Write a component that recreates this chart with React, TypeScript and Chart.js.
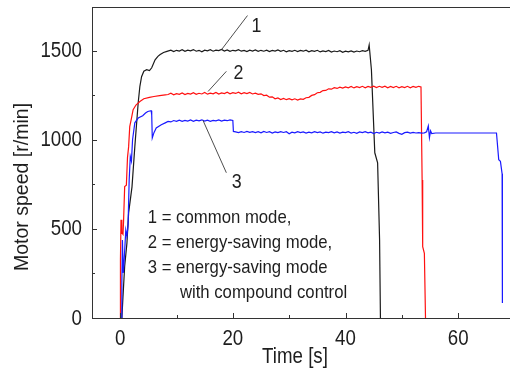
import React, { useEffect, useRef } from "react";
import { Chart, registerables } from "chart.js";

Chart.register(...registerables);

// ---------- data ----------
const xTickValues = [0, 20, 40, 60];
const yTickValues = [0, 500, 1000, 1500];

const blackTime = [
  0.3, 0.5, 0.8, 1.2, 1.5, 2.1, 2.6, 3.2, 3.5, 3.8, 4.2, 4.7, 5.2, 5.6, 6.2, 6.7, 7.1, 7.7, 8.3,
  9, 9.5, 10, 10.5, 11, 11.5, 12, 12.5, 13, 13.5, 14, 14.5, 15, 15.5, 16, 16.5, 17, 17.5, 18, 18.5,
  19, 19.5, 20, 20.5, 21, 21.5, 22, 22.5, 23, 23.5, 24, 24.5, 25, 25.5, 26, 26.5, 27, 27.5, 28, 28.5,
  29, 29.5, 30, 30.5, 31, 31.5, 32, 32.5, 33, 33.5, 34, 34.5, 35, 35.5, 36, 36.5, 37, 37.5, 38, 38.5,
  39, 39.5, 40, 40.5, 41, 41.5, 42, 42.5, 43, 43.5, 44,
  44.2, 44.6, 45.2, 45.7, 46.05, 46.2,
];
const blackSpeed = [
  0, 120, 290, 420, 590, 736, 960, 1208, 1300, 1354, 1385, 1393, 1388, 1404, 1449, 1468, 1478, 1490, 1496,
  1503, 1495, 1502, 1498, 1505, 1496, 1503, 1499, 1506, 1497, 1502, 1494, 1503, 1499, 1505, 1497, 1503, 1500, 1507, 1498,
  1504, 1496, 1502, 1499, 1505, 1497, 1501, 1495, 1503, 1498, 1504, 1496, 1502, 1497, 1503, 1495, 1501, 1498, 1504, 1496,
  1502, 1494, 1500, 1496, 1502, 1495, 1501, 1497, 1503, 1494, 1500, 1496, 1502, 1493, 1499, 1495, 1501, 1492, 1498, 1494,
  1500, 1491, 1497, 1493, 1499, 1492, 1498, 1494, 1500, 1496, 1502,
  1532, 1393, 927, 871, 438, 0,
];

const redTime = [
  0.0, 0.05, 0.15, 0.3, 0.5, 0.6, 0.8, 1.1, 1.3, 1.5, 1.7, 2.0, 2.3, 2.8, 3.5, 4.2, 5.2, 6.0, 7.0, 8.0, 8.5,
  9, 9.5, 10, 10.5, 11, 11.5, 12, 12.5, 13, 13.5, 14, 14.5, 15, 15.5, 16, 16.5, 17, 17.5, 18, 18.5,
  19, 19.5, 20, 20.5, 21, 21.5, 22, 22.5, 23, 23.5, 24, 24.5, 25, 25.5, 26, 26.5, 27, 27.5, 28, 28.5,
  29, 29.5, 30, 30.5, 31, 31.5, 32, 32.5, 33, 33.5, 34, 34.5, 35, 35.5, 36, 36.5, 37, 37.5, 38, 38.5,
  39, 39.5, 40, 40.5, 41, 41.5, 42, 42.5, 43, 43.5, 44, 44.5, 45, 45.5, 46, 46.5, 47, 47.5, 48, 48.5,
  49, 49.5, 50, 50.5, 51, 51.5, 52, 52.5, 53,
  53.4, 53.6, 53.7, 54.0, 54.2,
];
const redSpeed = [
  0, 330, 551, 480, 470, 540, 737, 745, 900, 960, 1074, 1120, 1169, 1195, 1215, 1230, 1238, 1243, 1248, 1252, 1254,
  1261, 1252, 1259, 1255, 1263, 1254, 1260, 1256, 1264, 1255, 1261, 1257, 1265, 1256, 1262, 1258, 1266, 1257, 1263, 1259,
  1267, 1258, 1264, 1260, 1267, 1258, 1264, 1259, 1266, 1257, 1262, 1255, 1258, 1248, 1250, 1239, 1241, 1230, 1235, 1226,
  1232, 1225, 1231, 1224, 1230, 1223, 1229, 1227, 1236, 1238, 1249, 1253, 1264, 1266, 1276, 1277, 1286, 1284, 1292, 1288,
  1295, 1290, 1297, 1292, 1299, 1291, 1298, 1293, 1300, 1292, 1299, 1294, 1301, 1293, 1300, 1294, 1301, 1292, 1299, 1293,
  1300, 1292, 1298, 1293, 1300, 1292, 1299, 1294, 1300,
  1296, 775, 400, 363, 0,
];

const blueTime = [
  0.2, 0.3, 0.4, 0.55, 0.7, 1.0, 1.2, 1.4, 1.6, 1.8, 2.0, 2.2, 2.6, 3.2, 4.0, 4.5, 4.9, 5.5, 5.6, 5.7,
  6.0, 6.4, 7.3, 8.0, 8.5,
  9, 9.5, 10, 10.5, 11, 11.5, 12, 12.5, 13, 13.5, 14, 14.5, 15, 15.5, 16, 16.5, 17, 17.5, 18, 18.5,
  19, 19.5, 20, 20.1,
  20.5, 21, 21.5, 22, 22.5, 23, 23.5, 24, 24.5, 25, 25.5, 26, 26.5, 27, 27.5, 28, 28.5,
  29, 29.5, 30, 30.5, 31, 31.5, 32, 32.5, 33, 33.5, 34, 34.5, 35, 35.5, 36, 36.5, 37, 37.5, 38, 38.5,
  39, 39.5, 40, 40.5, 41, 41.5, 42, 42.5, 43, 43.5, 44, 44.5, 45, 45.5, 46, 46.5, 47, 47.5, 48, 48.5,
  49, 49.5, 50, 50.5, 51, 51.5, 52, 52.5, 53, 53.5, 54,
  54.4, 54.7, 54.9, 55.1, 55.3, 56, 66.8, 67.2, 67.5, 67.8, 67.85,
];
const blueSpeed = [
  0, 200, 438, 253, 320, 494, 460, 520, 775, 906, 880, 1000, 1095, 1122, 1135, 1150, 1159, 1163, 1140, 1010,
  1040, 1066, 1084, 1095, 1103,
  1100, 1108, 1103, 1110, 1104, 1109, 1105, 1111, 1104, 1110, 1106, 1112, 1105, 1110, 1104, 1109, 1106, 1111, 1105, 1110,
  1107, 1112, 1108, 1047,
  1044, 1040, 1046, 1041, 1047, 1042, 1046, 1040, 1045, 1039, 1047, 1041, 1045, 1038, 1044, 1040, 1046,
  1041, 1045, 1034, 1043, 1039, 1045, 1040, 1044, 1038, 1043, 1039, 1045, 1040, 1044, 1037, 1043, 1040, 1046, 1039, 1044,
  1038, 1043, 1040, 1045, 1038, 1042, 1036, 1044, 1040, 1045, 1039, 1043, 1035, 1042, 1038, 1044, 1039, 1043, 1036, 1041,
  1044, 1036, 1031, 1040, 1043, 1037, 1041, 1038, 1040, 1037, 1039,
  1045, 1078, 1012, 1050, 1035, 1038, 1038, 888, 879, 809, 84,
];

const curveLabels = ["1", "2", "3"];
const noteLines = [
  "1 = common mode,",
  "2 = energy-saving mode,",
  "3 = energy-saving mode",
  "with compound control",
];
const xTitle = "Time [s]";
const yTitle = "Motor speed [r/min]";

const FONT = '"Liberation Sans", Arial, sans-serif';
const TEXT = "#1e1e1e";

function toPts(t: number[], v: number[]) {
  return t.map((x, i) => ({ x, y: v[i] }));
}

// draws text with a horizontal squeeze (condensed look)
function txt(
  ctx: CanvasRenderingContext2D,
  s: string,
  px: number,
  py: number,
  size: number,
  squeeze: number,
  align: CanvasTextAlign
) {
  ctx.save();
  ctx.translate(px, py);
  ctx.scale(squeeze, 1);
  ctx.font = `${size}px ${FONT}`;
  ctx.textAlign = align;
  ctx.textBaseline = "middle";
  ctx.fillText(s, 0, 0);
  ctx.restore();
}

const decorPlugin = {
  id: "decor",
  afterDraw(chart: any) {
    const { ctx, chartArea: a, scales } = chart;
    const x = scales.x;
    const y = scales.y;
    ctx.save();
    ctx.strokeStyle = "#333";
    ctx.lineWidth = 1;
    const seg = (x1: number, y1: number, x2: number, y2: number) => {
      ctx.beginPath();
      ctx.moveTo(x1, y1);
      ctx.lineTo(x2, y2);
      ctx.stroke();
    };
    // top frame line
    seg(a.left, Math.round(a.top) + 0.5, a.right, Math.round(a.top) + 0.5);

    ctx.fillStyle = TEXT;
    // inward ticks + labels on x axis
    const xv = x.ticks.map((t: any) => t.value);
    const xs = xv.length > 1 ? xv[1] - xv[0] : 20;
    xv.forEach((v: number) => {
      const p = Math.round(x.getPixelForValue(v)) + 0.5;
      seg(p, a.bottom, p, a.bottom - 5);
      const m = v + xs / 2;
      if (m < x.max) {
        const q = Math.round(x.getPixelForValue(m)) + 0.5;
        seg(q, a.bottom, q, a.bottom - 3);
      }
      txt(ctx, String(v), x.getPixelForValue(v), a.bottom + 20.5, 22, 0.85, "center");
    });
    // inward ticks + labels on y axis
    const yv = y.ticks.map((t: any) => t.value);
    const ys = yv.length > 1 ? yv[1] - yv[0] : 500;
    yv.forEach((v: number) => {
      const p = Math.round(y.getPixelForValue(v)) + 0.5;
      seg(a.left, p, a.left + 5, p);
      const m = v + ys / 2;
      if (m < y.max) {
        const q = Math.round(y.getPixelForValue(m)) + 0.5;
        seg(a.left, q, a.left + 3, q);
      }
      txt(ctx, String(v), a.left - 10, y.getPixelForValue(v) + 0.5, 22, 0.85, "right");
    });

    // leader lines (data coordinates)
    ctx.strokeStyle = "#3a3a3a";
    ctx.lineWidth = 0.9;
    const lead = (t1: number, v1: number, t2: number, v2: number) =>
      seg(x.getPixelForValue(t1), y.getPixelForValue(v1), x.getPixelForValue(t2), y.getPixelForValue(v2));
    lead(22.6, 1697, 18.0, 1506);
    lead(18.85, 1384, 15.6, 1271);
    lead(14.7, 1109, 18.85, 815);

    const lblPos = [
      [24.2, 1640],
      [21.0, 1373],
      [20.7, 764],
    ];
    curveLabels.forEach((s, i) => {
      txt(ctx, s, x.getPixelForValue(lblPos[i][0]), y.getPixelForValue(lblPos[i][1]), 21, 0.85, "center");
    });

    // note text
    const notePos = [
      [4.9, 562],
      [4.9, 421],
      [4.9, 281],
      [10.6, 140],
    ];
    noteLines.forEach((s, i) => {
      txt(ctx, s, x.getPixelForValue(notePos[i][0]), y.getPixelForValue(notePos[i][1]), 19, 0.88, "left");
    });

    // axis titles
    txt(ctx, xTitle, 295, 357, 22, 0.85, "center");
    ctx.save();
    ctx.translate(22, 187);
    ctx.rotate(-Math.PI / 2);
    txt(ctx, yTitle, 0, 0, 21, 0.93, "center");
    ctx.restore();

    ctx.restore();
  },
};

export default function App() {
  const ref = useRef<HTMLCanvasElement | null>(null);
  useEffect(() => {
    if (!ref.current) return;
    const line = (data: any, color: string) => ({
      data,
      borderColor: color,
      backgroundColor: color,
      borderWidth: 1.2,
      pointRadius: 0,
      showLine: true,
      tension: 0,
      fill: false,
    });
    const chart = new Chart(ref.current, {
      type: "scatter",
      data: {
        datasets: [
          line(toPts(blueTime, blueSpeed), "#1a1aff"),
          line(toPts(redTime, redSpeed), "#ff1010"),
          line(toPts(blackTime, blackSpeed), "#1a1a1a"),
        ],
      },
      options: {
        animation: false,
        responsive: false,
        devicePixelRatio: 1,
        layout: { padding: { top: 7, left: 0, right: 0, bottom: 0 } },
        plugins: { legend: { display: false }, tooltip: { enabled: false } },
        scales: {
          x: {
            type: "linear",
            min: -5,
            max: 69.2,
            afterBuildTicks: (s: any) => {
              s.ticks = xTickValues.map((value) => ({ value }));
            },
            afterFit: (s: any) => {
              s.height = 52;
              s.paddingLeft = 0;
              s.paddingRight = 0;
            },
            grid: { display: true, drawOnChartArea: false, drawTicks: false },
            border: { display: true, color: "#333", width: 1 },
            ticks: { display: false, autoSkip: false },
          },
          y: {
            type: "linear",
            min: 0,
            max: 1745,
            afterBuildTicks: (s: any) => {
              s.ticks = yTickValues.map((value) => ({ value }));
            },
            afterFit: (s: any) => {
              s.width = 92;
              s.paddingTop = 0;
              s.paddingBottom = 0;
            },
            grid: { display: true, drawOnChartArea: false, drawTicks: false },
            border: { display: true, color: "#333", width: 1 },
            ticks: { display: false, autoSkip: false },
          },
        },
      } as any,
      plugins: [decorPlugin],
    });
    return () => chart.destroy();
  }, []);
  return (
    <div style={{ position: "absolute", left: 0, top: 0, width: 510, height: 370, background: "#fff" }}>
      <canvas ref={ref} width={510} height={370} style={{ display: "block" }} />
    </div>
  );
}
